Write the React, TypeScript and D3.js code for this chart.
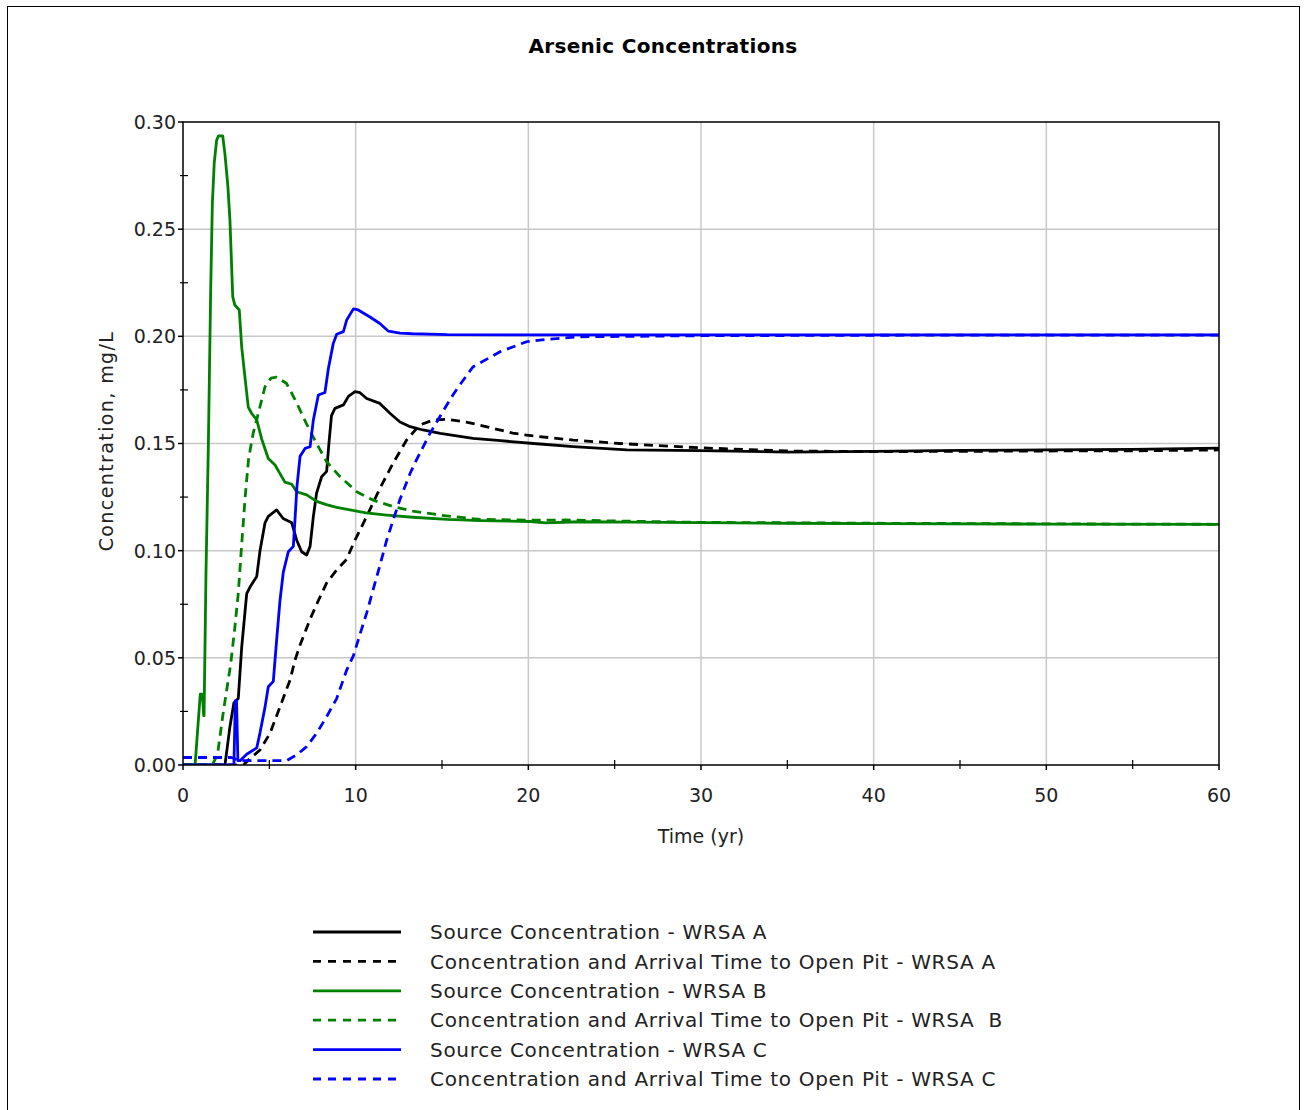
import React from "react";
import * as d3 from "d3";

type Pt = [number, number];

const xTicks = [0, 10, 20, 30, 40, 50, 60];
const xMinorTicks = [5, 15, 25, 35, 45, 55];
const yTicks = [0, 0.05, 0.1, 0.15, 0.2, 0.25, 0.3];
const yMinorTicks = [0.025, 0.075, 0.125, 0.175, 0.225, 0.275];

const legendLabels = [
  "Source Concentration - WRSA A",
  "Concentration and Arrival Time to Open Pit - WRSA A",
  "Source Concentration - WRSA B",
  "Concentration and Arrival Time to Open Pit - WRSA  B",
  "Source Concentration - WRSA C",
  "Concentration and Arrival Time to Open Pit - WRSA C",
];

const sourceA: Pt[] = [
  [0, 0], [2.43, 0], [2.72, 0.018], [2.95, 0.029], [3.2, 0.031], [3.4, 0.055], [3.69, 0.08],
  [3.88, 0.083], [4.27, 0.088], [4.46, 0.1], [4.75, 0.113], [4.94, 0.116], [5.42, 0.119],
  [5.8, 0.115], [6.3, 0.113], [6.58, 0.105], [6.87, 0.0995], [7.16, 0.098], [7.36, 0.102],
  [7.55, 0.116], [7.74, 0.127], [8.03, 0.1345], [8.32, 0.137], [8.45, 0.15], [8.6, 0.163],
  [8.8, 0.1664], [9.29, 0.168], [9.58, 0.172], [9.96, 0.1742], [10.25, 0.1737], [10.64, 0.171],
  [11.4, 0.1687], [12.0, 0.164], [12.57, 0.16], [13.1, 0.158], [13.9, 0.1563], [14.9, 0.1547],
  [16.8, 0.1524], [18.4, 0.1513], [20.3, 0.15], [22.6, 0.1485], [25.7, 0.147], [29.9, 0.1467],
  [35, 0.146], [40, 0.1463], [45, 0.1468], [50, 0.147], [55, 0.1473], [60, 0.1478],
];

const arrivalA: Pt[] = [
  [0, 0], [3.5, 0], [3.88, 0.003], [4.46, 0.007], [5.04, 0.0148], [5.62, 0.0272], [6.2, 0.0397],
  [6.49, 0.049], [6.78, 0.056], [7.36, 0.068], [7.74, 0.075], [8.32, 0.085], [8.9, 0.091],
  [9.48, 0.096], [9.87, 0.1034], [10.64, 0.116], [11.4, 0.129], [12.18, 0.141], [12.95, 0.1516],
  [13.7, 0.1586], [14.5, 0.161], [15.3, 0.1613], [16.4, 0.16], [17.6, 0.1578], [19.1, 0.1548],
  [20.3, 0.1535], [22.6, 0.1516], [25.3, 0.15], [29.9, 0.148], [35, 0.1465], [40, 0.1462],
  [50, 0.1465], [55, 0.1466], [60, 0.147],
];

const sourceB: Pt[] = [
  [0, 0], [0.7, 0], [1.0, 0.033], [1.12, 0.033], [1.2, 0.023], [1.22, 0.023], [1.33, 0.089],
  [1.47, 0.15], [1.6, 0.22], [1.7, 0.262], [1.81, 0.281], [1.95, 0.2916], [2.05, 0.2935],
  [2.3, 0.2935], [2.43, 0.285], [2.6, 0.27], [2.72, 0.254], [2.88, 0.2185], [3.0, 0.2146],
  [3.26, 0.2123], [3.4, 0.195], [3.6, 0.18], [3.78, 0.167], [3.98, 0.164], [4.27, 0.161],
  [4.56, 0.152], [4.94, 0.143], [5.33, 0.14], [5.9, 0.132], [6.3, 0.131], [6.58, 0.1275],
  [7.16, 0.126], [7.74, 0.123], [8.3, 0.1215], [8.9, 0.1202], [9.67, 0.119], [10.6, 0.1176],
  [11.8, 0.1166], [13.3, 0.1156], [15.3, 0.1146], [17.2, 0.114], [20.1, 0.1136], [21, 0.113],
  [23, 0.1135], [26, 0.1133], [30, 0.1131], [35, 0.1128], [40, 0.1126], [50, 0.1124], [60, 0.1123],
];

const arrivalB: Pt[] = [
  [0, 0], [1.7, 0], [2.0, 0.005], [2.34, 0.025], [2.76, 0.047], [3.0, 0.064], [3.2, 0.08],
  [3.4, 0.103], [3.6, 0.125], [3.8, 0.143], [4.07, 0.155], [4.36, 0.164], [4.75, 0.1765],
  [5.1, 0.1805], [5.42, 0.181], [6.0, 0.178], [6.58, 0.169], [7.16, 0.159], [7.74, 0.15],
  [8.32, 0.1415], [9.1, 0.1345], [10.06, 0.1275], [11.0, 0.1236], [12.2, 0.1205], [13.3, 0.1185],
  [14.9, 0.1166], [16.0, 0.1156], [17.2, 0.1146], [20, 0.1142], [22.2, 0.1143], [26.1, 0.1137],
  [30, 0.1132], [40, 0.1128], [50, 0.1125], [60, 0.1123],
];

const sourceC: Pt[] = [
  [0, 0], [2.95, 0], [3.03, 0.03], [3.1, 0.03], [3.18, 0.002], [3.3, 0.002], [3.69, 0.005],
  [4.27, 0.008], [4.46, 0.015], [4.75, 0.027], [4.94, 0.0365], [5.23, 0.039], [5.42, 0.058],
  [5.62, 0.077], [5.81, 0.09], [6.1, 0.0995], [6.39, 0.102], [6.49, 0.115], [6.6, 0.13],
  [6.78, 0.144], [7.07, 0.1477], [7.36, 0.1485], [7.55, 0.161], [7.84, 0.1726], [8.22, 0.1738],
  [8.42, 0.185], [8.7, 0.1966], [8.9, 0.201], [9.29, 0.2022], [9.48, 0.2076], [9.87, 0.2128],
  [10.15, 0.2123], [10.83, 0.209], [11.4, 0.206], [11.9, 0.2024], [12.57, 0.2015], [13.3, 0.2012],
  [15.3, 0.2008], [20, 0.2007], [30, 0.2007], [40, 0.2007], [50, 0.2007], [60, 0.2007],
];

const arrivalC: Pt[] = [
  [0, 0.0035], [2.8, 0.0035], [3.3, 0.002], [6.0, 0.002], [6.58, 0.0047], [7.16, 0.0086],
  [7.74, 0.0148], [8.32, 0.0226], [8.9, 0.031], [9.48, 0.0443], [9.87, 0.051], [10.25, 0.061],
  [10.64, 0.071], [11.02, 0.082], [11.4, 0.093], [11.8, 0.105], [12.2, 0.115], [12.57, 0.124],
  [13.15, 0.136], [13.5, 0.142], [14.3, 0.1547], [15.1, 0.1656], [15.66, 0.173], [16.0, 0.177],
  [16.8, 0.1858], [18.36, 0.1928], [19.9, 0.1975], [21.06, 0.1986], [23, 0.1998], [26, 0.2],
  [30, 0.2003], [40, 0.2005], [50, 0.2006], [60, 0.2006],
];

const seriesData = [sourceA, arrivalA, sourceB, arrivalB, sourceC, arrivalC];
const seriesColors = ["#000000", "#000000", "#008000", "#008000", "#0000ff", "#0000ff"];
const seriesDashed = [false, true, false, true, false, true];

const FONT = "'DejaVu Sans', sans-serif";

export default function App() {
  const x = d3.scaleLinear().domain([0, 60]).range([183, 1219]);
  const y = d3.scaleLinear().domain([0, 0.3]).range([765, 122]);
  const line = d3
    .line<Pt>()
    .x((d) => x(d[0]))
    .y((d) => y(d[1]));

  const [x0, x1] = x.range();
  const [y0, y1] = y.range();

  return (
    <svg
      width={1304}
      height={1110}
      style={{ position: "absolute", left: 0, top: 0, background: "#fff" }}
      fontFamily={FONT}
    >
      <rect x={0} y={0} width={1304} height={1110} fill="#fff" />
      <rect x={7.5} y={6.5} width={1292} height={1120} fill="none" stroke="#000" strokeWidth={1} />

      <text x={663} y={53} textAnchor="middle" fontSize={20} fontWeight="bold" fill="#000" letterSpacing={0.3}>
        Arsenic Concentrations
      </text>

      <defs>
        <clipPath id="plotClip">
          <rect x={x0} y={y1} width={x1 - x0} height={y0 - y1} />
        </clipPath>
      </defs>

      {/* grid */}
      {xTicks.slice(1, -1).map((t) => (
        <line key={"gx" + t} x1={x(t)} x2={x(t)} y1={y1} y2={y0} stroke="#c8c8c8" strokeWidth={1.5} />
      ))}
      {yTicks.slice(1, -1).map((t) => (
        <line key={"gy" + t} x1={x0} x2={x1} y1={y(t)} y2={y(t)} stroke="#c8c8c8" strokeWidth={1.5} />
      ))}

      {/* series */}
      <g clipPath="url(#plotClip)">
        {seriesData.map((d, i) => (
          <path
            key={i}
            d={line(d) || ""}
            fill="none"
            stroke={seriesColors[i]}
            strokeWidth={2.8}
            strokeDasharray={seriesDashed[i] ? "9,6" : undefined}
            strokeLinejoin="round"
          />
        ))}
      </g>

      {/* frame */}
      <rect x={x0} y={y1} width={x1 - x0} height={y0 - y1} fill="none" stroke="#000" strokeWidth={1.5} />

      {/* x ticks */}
      {xTicks.map((t) => (
        <g key={"xt" + t}>
          <line x1={x(t)} x2={x(t)} y1={y0} y2={y0 + 5} stroke="#000" strokeWidth={1.5} />
          <text x={x(t)} y={802} textAnchor="middle" fontSize={19} fill="#222">
            {t}
          </text>
        </g>
      ))}
      {xMinorTicks.map((t) => (
        <line key={"xm" + t} x1={x(t)} x2={x(t)} y1={y0 - 5} y2={y0 + 4} stroke="#000" strokeWidth={1.2} />
      ))}

      {/* y ticks */}
      {yTicks.map((t) => (
        <g key={"yt" + t}>
          <line x1={x0 - 5} x2={x0} y1={y(t)} y2={y(t)} stroke="#000" strokeWidth={1.5} />
          <text x={176} y={y(t)} dy="0.36em" textAnchor="end" fontSize={19} fill="#222">
            {d3.format(".2f")(t)}
          </text>
        </g>
      ))}
      {yMinorTicks.map((t) => (
        <line key={"ym" + t} x1={x0 - 3} x2={x0 + 5} y1={y(t)} y2={y(t)} stroke="#000" strokeWidth={1.2} />
      ))}

      <text x={701} y={843} textAnchor="middle" fontSize={19} fill="#222">
        Time (yr)
      </text>
      <text
        transform={`translate(113,441) rotate(-90)`}
        textAnchor="middle"
        fontSize={19}
        fill="#222"
        letterSpacing={1.4}
      >
        Concentration, mg/L
      </text>

      {/* legend */}
      {legendLabels.map((label, i) => {
        const ly = 932 + i * 29.4;
        return (
          <g key={"lg" + i}>
            <line
              x1={313}
              x2={401}
              y1={ly}
              y2={ly}
              stroke={seriesColors[i]}
              strokeWidth={2.8}
              strokeDasharray={seriesDashed[i] ? "8,7" : undefined}
            />
            <text
              x={430}
              y={ly}
              dy="0.36em"
              fontSize={20}
              fill="#222"
              letterSpacing={0.7}
              style={{ whiteSpace: "pre" }}
            >
              {label}
            </text>
          </g>
        );
      })}
    </svg>
  );
}
